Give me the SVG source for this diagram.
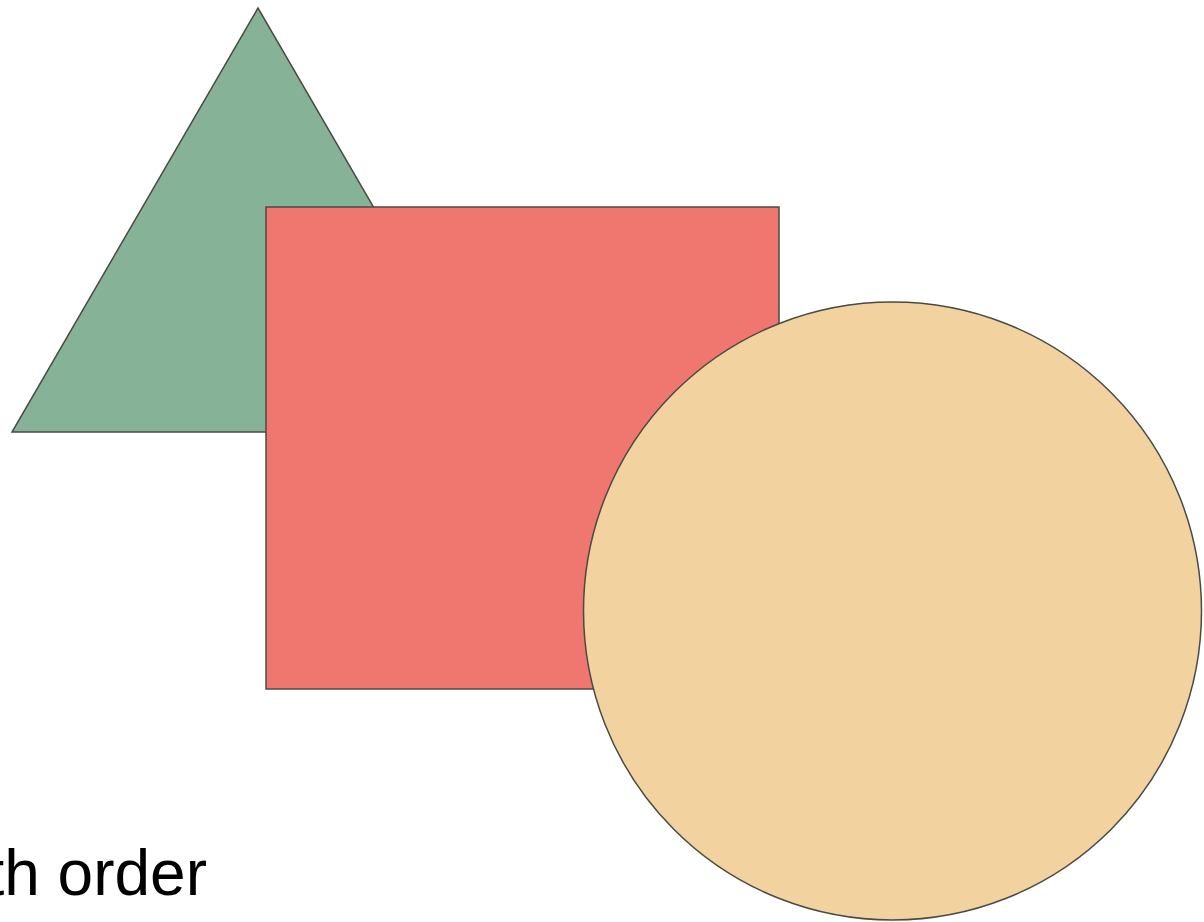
<svg xmlns="http://www.w3.org/2000/svg" width="1204" height="922" viewBox="0 0 1204 922">
<style>
.shape{stroke:#4a4a44;stroke-width:1.5}
.lbl{font-family:"Liberation Sans",Arial,sans-serif;font-size:64px;fill:#000}
</style>
<rect width="1204" height="922" fill="#fff"/>
<g id="triangle"><polygon class="shape" points="258,8 12,432 504,432" fill="#86b398"/></g>
<g id="square"><rect class="shape" x="266" y="207" width="513" height="482" fill="#f07770"/></g>
<g id="circle"><circle class="shape" cx="892.5" cy="611" r="309" fill="#f2d39f"/></g>
<g id="connectors"/>
<text class="lbl" x="207" y="895" text-anchor="end">th order</text>
</svg>
